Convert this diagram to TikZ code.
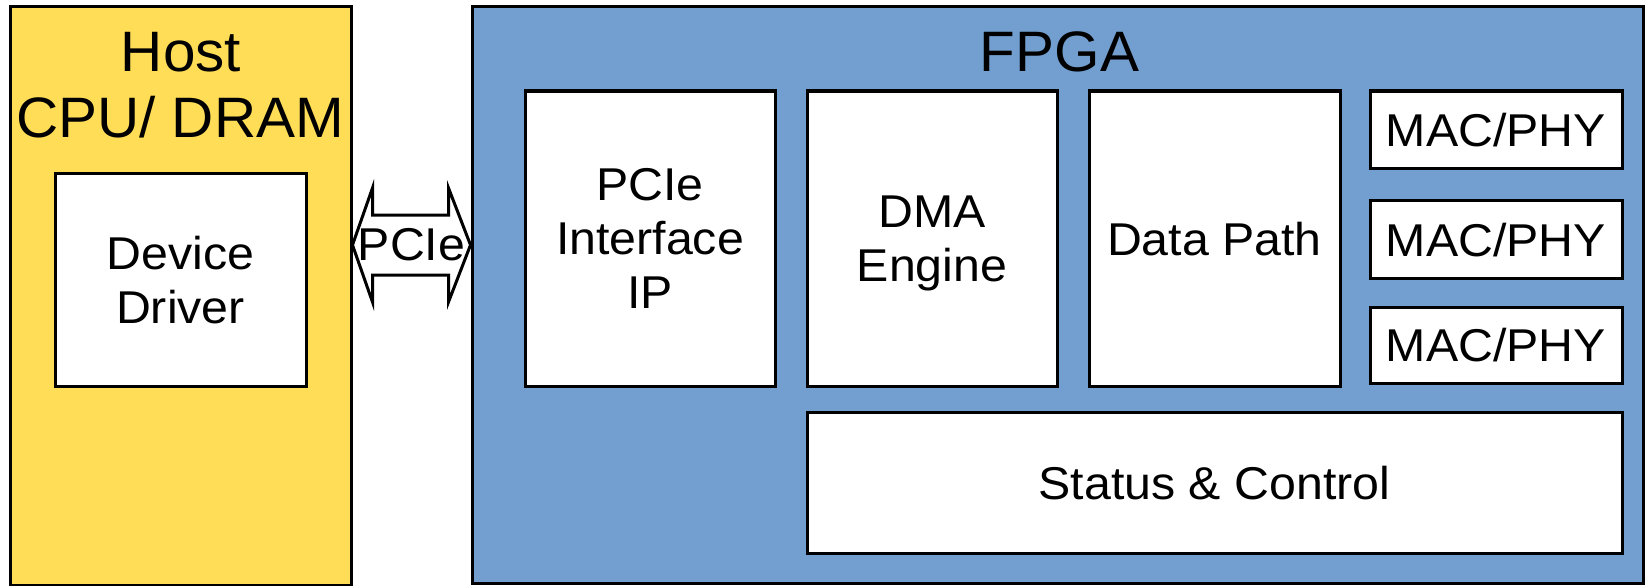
\documentclass[tikz,border=0pt]{standalone}
\usepackage{fontspec}
\setmainfont{Liberation Sans}
\newfontfamily\innerfont[FakeStretch=1.05]{Liberation Sans}
\newfontfamily\titlefont[FakeStretch=1.025]{Liberation Sans}
\usetikzlibrary{calc}
\definecolor{hostyellow}{HTML}{FFDD57}
\definecolor{fpgablue}{HTML}{729FCF}
\begin{document}
\begin{tikzpicture}[x=1pt,y=-1pt,line width=3pt,
  container/.style={draw=black,rectangle,inner sep=0pt},
  block/.style={draw=black,fill=white,rectangle,inner sep=0pt,align=center,
    font=\innerfont\fontsize{46}{54}\selectfont,text depth=0pt},
  title/.style={font=\titlefont\fontsize{57}{65}\selectfont,anchor=base,inner sep=0pt},
  linklabel/.style={font=\innerfont\fontsize{46}{54}\selectfont,anchor=base,inner sep=0pt},
  linkarrow/.style={draw=black,fill=white,line join=miter}]
\useasboundingbox (0,0) rectangle (1647,586);
% Host
\node[container,fill=hostyellow,minimum width=341pt,minimum height=578pt] (host) at (180.5,296) {};
\node[title] (hosttitle) at (181,72) {Host};
\node[title] (hostsub) at (180,137) {CPU/ DRAM};
\node[block,minimum width=251pt,minimum height=213pt] (driver) at (180.5,279.5) {Device\\Driver};
% FPGA
\node[container,fill=fpgablue,minimum width=1171pt,minimum height=576pt] (fpga) at (1057.5,295) {};
\node[title] (fpgatitle) at (1059.5,72) {FPGA};
\node[block,minimum width=250pt,minimum height=295pt] (pcieip) at (650,238.5) {PCIe\\Interface\\IP};
\node[block,minimum width=250pt,minimum height=295pt] (dma) at (932,238.5) {DMA\\Engine};
\node[block,minimum width=251pt,minimum height=295pt] (datapath) at (1214.5,238.5) {Data Path};
\node[block,minimum width=252pt,minimum height=77pt] (mac1) at (1496,129.5) {MAC/PHY};
\node[block,minimum width=252pt,minimum height=78pt] (mac2) at (1496,239.5) {MAC/PHY};
\node[block,minimum width=252pt,minimum height=76pt] (mac3) at (1496,345) {MAC/PHY};
\node[block,minimum width=815pt,minimum height=141pt] (status) at (1214.5,482.5) {Status \& Control};
% PCIe link
\coordinate (aL) at (host.east |- 0,245);
\coordinate (aR) at (fpga.west |- 0,245);
\draw[linkarrow] (aL) -- ++(20,-57) -- ++(0,27) -- ($(aR)+(-22,-30)$) -- ++(0,-27) -- (aR)
  -- ++(-22,57) -- ++(0,-27) -- ($(aL)+(20,30)$) -- ++(0,27) -- cycle;
\node[linklabel] (pcielabel) at ($(aL)!0.5!(aR)+(0,15)$) {PCIe};
\end{tikzpicture}
\end{document}
